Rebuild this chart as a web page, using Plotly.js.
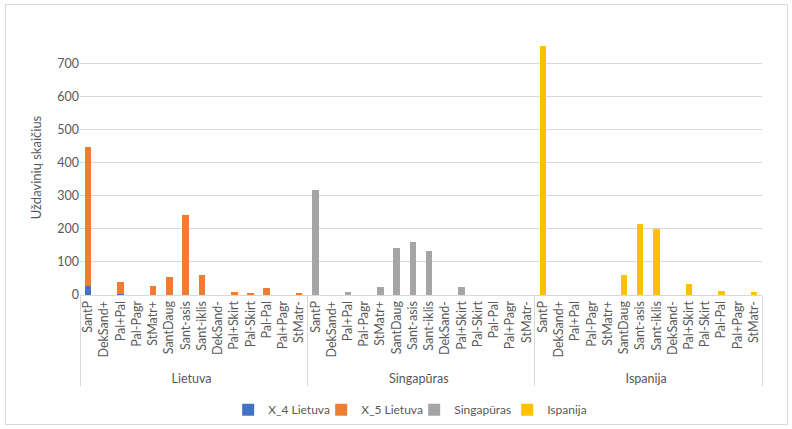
<!DOCTYPE html>
<html>
<head>
<meta charset="utf-8">
<script src="https://cdn.plot.ly/plotly-3.0.1.min.js"></script>
<style>
  html, body { margin: 0; padding: 0; background: #ffffff; }
  #wrap { position: relative; width: 792px; height: 429px; }
  #chart { width: 792px; height: 429px; }
  #frame { position: absolute; left: 5px; top: 4px; width: 781px; height: 419px;
           border: 1px solid #d9d9d9; pointer-events: none; }
</style>
</head>
<body>
<div id="wrap">
  <div id="chart"></div>
  <div id="frame"></div>
</div>
<script>
// Task types shown for every country
const taskTypes = ["SantP", "DekSand+", "Pal+Pal", "Pal-Pagr", "StMatr+", "SantDaug", "Sant-asis",
                   "Sant-iklis", "DekSand-", "Pal+Skirt", "Pal-Skirt", "Pal-Pal", "Pal+Pagr", "StMatr-"];
const countries = ["Lietuva", "Singapūras", "Ispanija"];

// Number of tasks per type
const x4Lietuva   = [28, 0, 4, 0, 0, 0, 0, 0, 0, 0, 0, 0, 0, 0];
const x5Lietuva   = [420, 0, 36, 0, 28, 54, 241, 61, 0, 9, 5, 22, 0, 6];
const singapuras  = [317, 0, 8, 0, 23, 141, 160, 133, 0, 25, 0, 0, 0, 0];
const ispanija    = [752, 0, 0, 0, 0, 60, 215, 199, 0, 34, 0, 11, 0, 9];

function groupX(country) {
  return [taskTypes.map(() => country), taskTypes.slice()];
}

const traces = [
  { name: "X_4 Lietuva", y: x4Lietuva, x: groupX(countries[0]), color: "#4472C4" },
  { name: "X_5 Lietuva", y: x5Lietuva, x: groupX(countries[0]), color: "#ED7D31" },
  { name: "Singapūras",  y: singapuras, x: groupX(countries[1]), color: "#A5A5A5" },
  { name: "Ispanija",    y: ispanija,   x: groupX(countries[2]), color: "#FFC000" }
].map(t => ({
  type: "bar",
  name: t.name,
  x: t.x,
  y: t.y,
  marker: { color: t.color, line: { width: 0 } },
  hoverinfo: "x+y+name"
}));

const font = "Lato, 'Open Sans', 'Liberation Sans', sans-serif";

const layout = {
  width: 792,
  height: 429,
  margin: { l: 80, r: 30, t: 40, b: 134, autoexpand: false },
  paper_bgcolor: "#ffffff",
  plot_bgcolor: "#ffffff",
  barmode: "stack",
  bargap: 0.6,
  font: { family: font, size: 12, color: "#595959" },
  showlegend: true,
  legend: {
    orientation: "h",
    x: 0.49, xanchor: "center",
    y: -0.45, yanchor: "middle",
    font: { family: font, size: 12, color: "#595959" },
    itemwidth: 30,
    entrywidth: 48,
    entrywidthmode: "pixels",
    traceorder: "normal"
  },
  xaxis: {
    type: "multicategory",
    tickangle: -90,
    tickfont: { family: font, size: 12.5, color: "#595959" },
    showline: true,
    linecolor: "#d9d9d9",
    linewidth: 1,
    showgrid: false,
    ticks: "",
    showdividers: true,
    dividercolor: "#d9d9d9",
    dividerwidth: 1,
    fixedrange: true
  },
  yaxis: {
    range: [0, 770],
    dtick: 100,
    tick0: 0,
    showgrid: true,
    gridcolor: "#d9d9d9",
    gridwidth: 1,
    zeroline: false,
    showline: false,
    ticks: "",
    ticklen: 0,
    tickfont: { family: font, size: 12.5, color: "#595959" },
    title: { text: "Uždavinių skaičius", font: { family: font, size: 13, color: "#595959" }, standoff: 12 },
    fixedrange: true
  }
};

Plotly.newPlot("chart", traces, layout, { displayModeBar: false, staticPlot: true });
</script>
</body>
</html>
